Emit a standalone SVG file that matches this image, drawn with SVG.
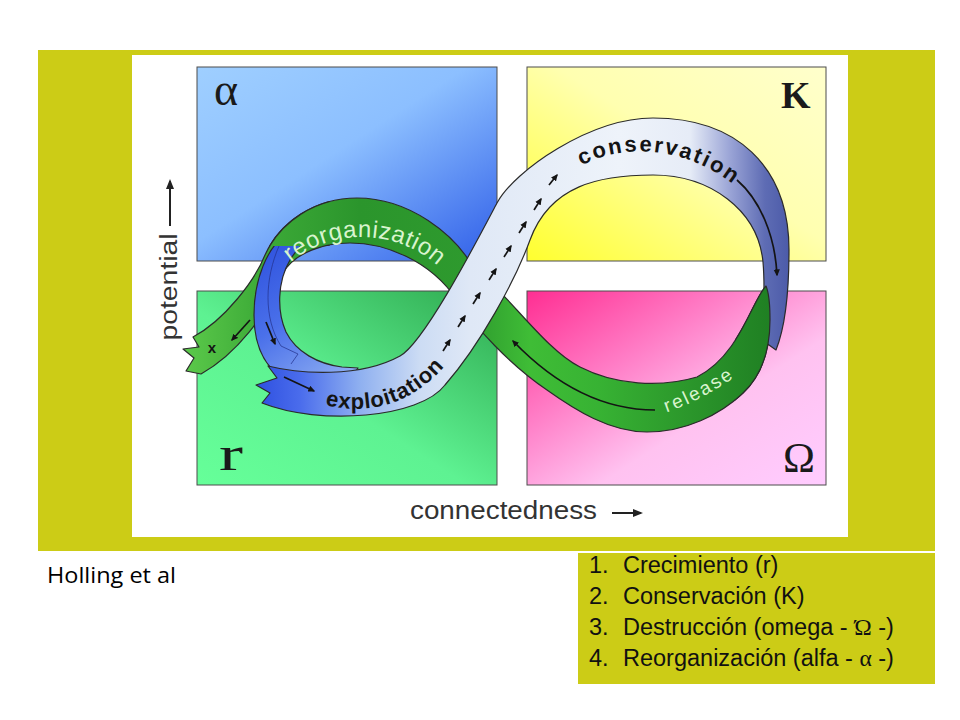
<svg xmlns="http://www.w3.org/2000/svg" width="960" height="720" viewBox="0 0 960 720">
<defs>
<style>
.qbox{stroke:#4d4d4d;stroke-width:1}
.band{stroke:#2b2b2b;stroke-width:1.2;stroke-linejoin:round}
.arr{fill:none;stroke:#141414;stroke-width:1.7;marker-end:url(#ah)}
.axarr{fill:none;stroke:#222;stroke-width:2;marker-end:url(#ahx)}
.axis{font-family:'Liberation Sans',Arial,sans-serif;fill:#333}
.bold{font-family:'Liberation Sans',Arial,sans-serif;font-weight:bold;fill:#141414}
.light{font-family:'Liberation Sans',Arial,sans-serif;fill:#d9f4cf}
.leg{font-family:'Liberation Sans',Arial,sans-serif;font-size:23.5px;fill:#111}
.gk{font-family:'Liberation Serif','Times New Roman',serif}
</style>
<linearGradient id="gAlpha" x1="0" y1="0" x2="1" y2="1">
<stop offset="0" stop-color="#9fcfff"/><stop offset="0.45" stop-color="#8cbfff"/><stop offset="1" stop-color="#2f5ee8"/>
</linearGradient>
<linearGradient id="gK" x1="1" y1="0" x2="0" y2="1">
<stop offset="0" stop-color="#ffffcc"/><stop offset="0.45" stop-color="#ffffb0"/><stop offset="1" stop-color="#ffff2e"/>
</linearGradient>
<linearGradient id="gR" x1="0" y1="1" x2="1" y2="0">
<stop offset="0" stop-color="#66ff99"/><stop offset="0.45" stop-color="#5ef292"/><stop offset="1" stop-color="#2ea84e"/>
</linearGradient>
<linearGradient id="gO" x1="0" y1="0" x2="1" y2="1">
<stop offset="0" stop-color="#ff2e92"/><stop offset="0.35" stop-color="#ff80c8"/><stop offset="0.62" stop-color="#ffc2f0"/><stop offset="1" stop-color="#ffccff"/>
</linearGradient>
<linearGradient id="gGreen" gradientUnits="userSpaceOnUse" x1="185" y1="0" x2="780" y2="0">
<stop offset="0" stop-color="#5bc94a"/><stop offset="0.126" stop-color="#3dab38"/><stop offset="0.294" stop-color="#2b952c"/><stop offset="0.479" stop-color="#2e9a2e"/><stop offset="0.58" stop-color="#3fbd36"/><stop offset="0.697" stop-color="#37b233"/><stop offset="0.849" stop-color="#2b962b"/><stop offset="1" stop-color="#1e7d22"/>
</linearGradient>
<linearGradient id="gBlue" gradientUnits="userSpaceOnUse" x1="255" y1="240" x2="350" y2="375">
<stop offset="0" stop-color="#2c4fdc"/><stop offset="0.5" stop-color="#4a70ea"/><stop offset="1" stop-color="#8eaef2"/>
</linearGradient>
<linearGradient id="gWhite" gradientUnits="userSpaceOnUse" x1="255" y1="0" x2="790" y2="0">
<stop offset="0" stop-color="#2d4fe0"/><stop offset="0.084" stop-color="#4a6cec"/><stop offset="0.196" stop-color="#8fb0f0"/><stop offset="0.308" stop-color="#ccdcf4"/><stop offset="0.402" stop-color="#dfe8f6"/><stop offset="0.682" stop-color="#eef3fa"/><stop offset="0.813" stop-color="#e6ecf7"/><stop offset="0.888" stop-color="#9aa4d6"/><stop offset="0.953" stop-color="#5e6cb4"/><stop offset="1" stop-color="#4b5aa8"/>
</linearGradient>
<marker id="ah" viewBox="0 0 10 10" refX="8" refY="5" markerWidth="7" markerHeight="7" markerUnits="userSpaceOnUse" orient="auto">
<path d="M0,0.5 L10,5 L0,9.5 z" fill="#141414"/>
</marker>
<marker id="ahx" viewBox="0 0 10 10" refX="8" refY="5" markerWidth="10" markerHeight="10" markerUnits="userSpaceOnUse" orient="auto">
<path d="M0,1 L10,5 L0,9 z" fill="#222"/>
</marker>
<path id="greenShape" class="band" fill="url(#gGreen)" d="M 766,286 C 752,300 740,355 697,377 C 660,388 615,385 580,367 C 545,350 505,290 473,267 C 455,235 410,198 357,198 C 315,198 280,222 265,255 C 255,280 225,320 193,337 L 199,347 L 183,349 L 194,358 L 186,371 L 201,374 C 235,355 268,315 283,273 C 295,252 325,243 350,243 C 385,243 430,260 457,300 C 475,327 510,365 547,390 C 575,410 610,432 647,432 C 685,432 720,415 743,393 C 762,375 770,350 770,320 C 770,305 769,293 766,286 Z"/>
<clipPath id="clipArcTop"><rect x="250" y="190" width="80" height="56"/></clipPath>
<clipPath id="clipRelTop"><rect x="735" y="280" width="70" height="160"/></clipPath>
<path id="pReorg" d="M 263.3,294 A 114 114 0 0 1 465.3,302.8"/>
<path id="pCons" d="M 575,170 C 610,145 680,140 738,188"/>
<path id="pExpl" d="M 322,404 C 365,416 412,407 448,362"/>
<path id="pRel" d="M 662,414 Q 700,402 742,372"/>
</defs>

<g id="background">
<rect x="38" y="50" width="897" height="501" fill="#cccc16"/>
<rect x="132" y="55" width="716" height="482" fill="#ffffff"/>
<rect x="578" y="553" width="357" height="131" fill="#cccc16"/>
</g>

<g id="quadrant-alpha">
<rect class="qbox" x="197" y="67" width="300" height="194" fill="url(#gAlpha)"/>
<text class="gk" x="214" y="105" font-size="46" fill="#1a1a1a">α</text>
</g>
<g id="quadrant-K">
<rect class="qbox" x="527" y="67" width="299" height="194" fill="url(#gK)"/>
<text class="gk" x="781" y="108" font-size="38" font-weight="bold" fill="#1a1a1a">K</text>
</g>
<g id="quadrant-r">
<rect class="qbox" x="197" y="291" width="300" height="194" fill="url(#gR)"/>
<text class="gk" x="0" y="0" font-size="48" fill="#1a1a1a" transform="translate(219,470) scale(1.5,1)">r</text>
</g>
<g id="quadrant-omega">
<rect class="qbox" x="527" y="291" width="299" height="194" fill="url(#gO)"/>
<text class="gk" x="783" y="472" font-size="43" fill="#1a1a1a">Ω</text>
</g>

<g id="band-release-reorganization">
<use href="#greenShape"/>
</g>

<g id="band-blue-loop">
<path class="band" fill="url(#gBlue)" d="M 284,236 C 268,248 254,278 254,315 C 254,338 260,355 270,367 L 300,382 L 350,380 L 358,368 L 342,367 C 318,364 296,352 286,332 C 277,312 277,282 290,260 C 296,250 304,242 310,236 Z"/>
<path d="M 279,246 C 265,278 263,318 281,346 L 298,354 L 291,364" fill="none" stroke="#22308a" stroke-width="1" opacity="0.7"/>
<use href="#greenShape" clip-path="url(#clipArcTop)"/>
</g>

<g id="band-exploitation-conservation">
<path class="band" fill="url(#gWhite)" d="M 268,366 C 300,374 360,378 400,356 C 425,342 480,235 497,203 C 514,171 590,118 653,118 C 735,118 789,165 789,250 C 789,290 786,325 776,350 L 762,340 C 764,310 765,285 763,262 C 758,210 710,175 653,175 C 600,175 550,185 530,240 C 515,281 480,345 445,385 C 420,418 320,426 262,403 L 270,393 L 256,385 L 277,378 Z"/>
</g>

<g id="band-release-top">
<use href="#greenShape" clip-path="url(#clipRelTop)"/>
</g>

<g id="band-labels">
<text class="light" font-size="24" letter-spacing="0.6"><textPath href="#pReorg" startOffset="42">reorganization</textPath></text>
<text class="bold" font-size="22" letter-spacing="2.1"><textPath href="#pCons" startOffset="8">conservation</textPath></text>
<text class="bold" font-size="22" letter-spacing="0.8"><textPath href="#pExpl" startOffset="3">exploitation</textPath></text>
<text class="light" font-size="19" letter-spacing="2.2"><textPath href="#pRel" startOffset="5">release</textPath></text>
<text class="bold" x="212" y="353" font-size="15" text-anchor="middle">x</text>
</g>

<g id="connectors">
<path class="arr" d="M 443,351 L 450,340"/>
<path class="arr" d="M 458,327 L 465,316"/>
<path class="arr" d="M 473,304 L 480,293"/>
<path class="arr" d="M 489,280 L 496,269"/>
<path class="arr" d="M 504,257 L 511,246"/>
<path class="arr" d="M 519,233 L 526,222"/>
<path class="arr" d="M 534,210 L 541,199"/>
<path class="arr" d="M 549,185 L 557,175"/>
<path class="arr" d="M 737,180 C 760,200 775,235 777,275"/>
<path class="arr" stroke-width="2" d="M 655,410 C 615,410 565,395 513,341"/>
<path class="arr" d="M 284,377 L 314,391"/>
<path class="arr" d="M 266,322 L 275,344"/>
<path class="arr" d="M 250,320 L 232,340"/>
</g>

<g id="axis-potential">
<text class="axis" font-size="23" text-anchor="middle" textLength="107" lengthAdjust="spacingAndGlyphs" transform="translate(177,287) rotate(-90)">potential</text>
<path class="axarr" d="M 170,226 L 170,181"/>
</g>

<g id="axis-connectedness">
<text class="axis" x="410" y="519" font-size="25" textLength="187" lengthAdjust="spacingAndGlyphs">connectedness</text>
<path class="axarr" d="M 612,513 L 641,513"/>
</g>

<g id="caption">
<text x="47" y="583" font-family="'Open Sans','Noto Sans',sans-serif" font-size="22" fill="#000" textLength="129" lengthAdjust="spacingAndGlyphs">Holling et al</text>
</g>

<g id="legend">
<text class="leg" x="589" y="573">1.</text><text class="leg" x="623" y="573">Crecimiento (r)</text>
<text class="leg" x="589" y="604">2.</text><text class="leg" x="623" y="604">Conservación (K)</text>
<text class="leg" x="589" y="635">3.</text><text class="leg" x="623" y="635">Destrucción (omega - <tspan class="gk">Ώ</tspan> -)</text>
<text class="leg" x="589" y="666">4.</text><text class="leg" x="623" y="666">Reorganización (alfa - <tspan class="gk">α</tspan> -)</text>
</g>
</svg>
